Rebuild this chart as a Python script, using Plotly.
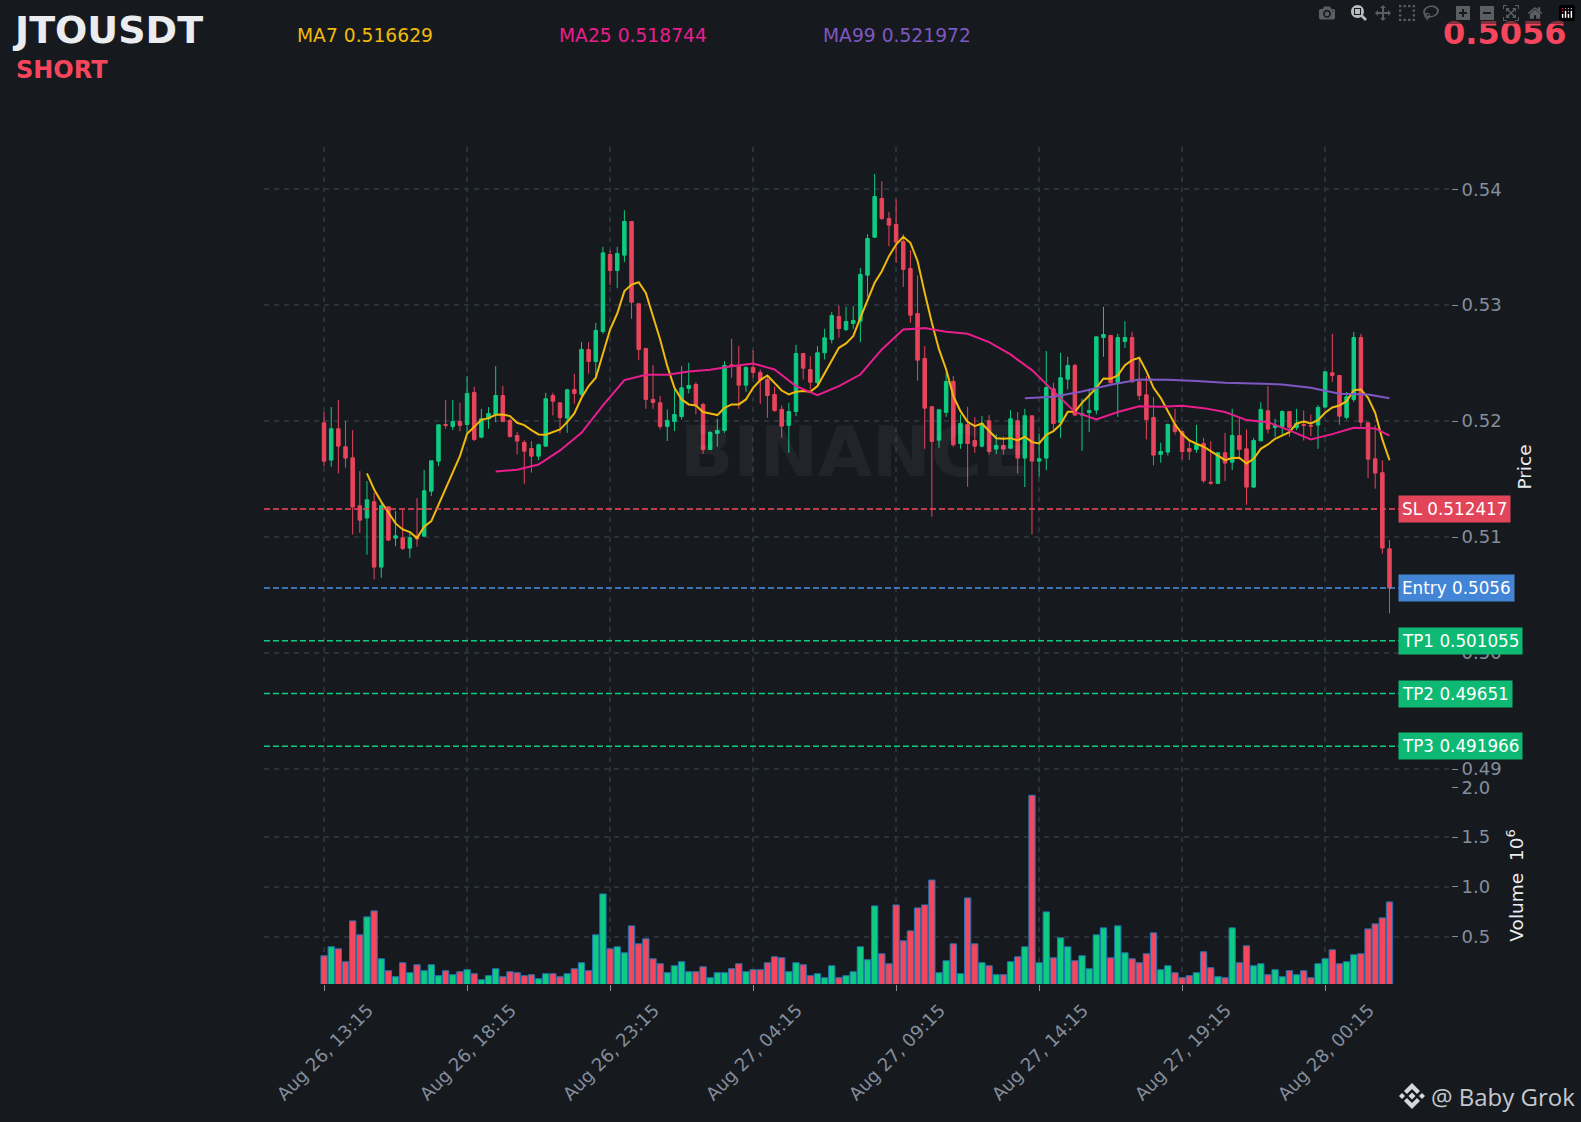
import pandas as pd
import plotly.graph_objs as go
from plotly.subplots import make_subplots

SYMBOL = 'JTOUSDT'
SIDE = 'SHORT'
LAST_PRICE = '0.5056'

# 15 minute klines
opens = [
    .51986, .51664, .51934, .51779, .51684, .51270, .51164, .51305, .50741, .51261,
    .50991, .50994, .50905, .51008, .51008, .51396, .51655, .51971, .51954, .51997,
    .51971, .52247, .51862, .52020, .52057, .52221, .52006, .51876, .51816, .51764,
    .51698, .51784, .52221, .52158, .52026, .52273, .52230, .52618, .52514, .52773,
    .53437, .53299, .53431, .53722, .53012, .52627, .52187, .52158, .51954, .51997,
    .52040, .52282, .52316, .52144, .51756, .51894, .51920, .52486, .52474, .52310,
    .52463, .52420, .52359, .52230, .52101, .51963, .52083, .52583, .52445, .52331,
    .52589, .52704, .52902, .52790, .52842, .52862, .53259, .53586, .53920, .53747,
    .53696, .53549, .53316, .52928, .52540, .52124, .51836, .52075, .52342, .51807,
    .51971, .51833, .51784, .52003, .51759, .51790, .51767, .52003, .51681, .52046,
    .51655, .51681, .52279, .51986, .52362, .52480, .52052, .52075, .52095, .52721,
    .52739, .52331, .52687, .52721, .52339, .52227, .52032, .51713, .51733, .51968,
    .51911, .51764, .51756, .51807, .51474, .51463, .51727, .51646, .51876, .51761,
    .51431, .51830, .52089, .51945, .51954, .52083, .51943, .51971, .51963, .51966,
    .52121, .52417, .52394, .52032, .52187, .52721, .51986, .51675, .51555, .50899,
]
highs = [
    .52078, .52121, .52181, .52000, .51922, .51569, .51483, .51382, .51296, .51264,
    .51224, .51238, .51052, .51336, .51578, .51658, .51971, .52181, .52181, .52158,
    .52388, .52296, .52106, .52121, .52474, .52302, .52020, .51905, .51836, .51828,
    .51807, .52244, .52244, .52158, .52279, .52408, .52681, .52681, .52848, .53503,
    .53471, .53503, .53819, .53722, .53012, .52627, .52483, .52216, .52101, .52273,
    .52474, .52503, .52336, .52158, .51914, .52020, .52517, .52710, .52647, .52474,
    .52612, .52445, .52388, .52296, .52135, .52158, .52658, .52589, .52560, .52647,
    .52796, .52940, .52997, .52986, .52992, .53322, .53612, .54132, .54069, .53805,
    .53914, .53612, .53474, .53256, .52647, .52124, .52101, .52417, .52388, .52057,
    .52124, .52034, .52043, .52052, .51885, .51871, .52095, .52078, .52106, .52046,
    .51894, .52604, .52331, .52589, .52555, .52494, .52193, .52279, .52733, .52986,
    .52739, .52753, .52862, .52770, .52532, .52388, .52207, .51813, .51980, .52106,
    .51914, .51842, .51968, .51856, .51828, .51727, .51899, .52106, .52029, .51928,
    .51856, .52164, .52302, .52020, .52092, .52083, .52106, .52092, .52057, .52138,
    .52428, .52753, .52394, .52250, .52770, .52753, .51986, .51963, .51661, .50974,
]
lows = [
    .51612, .51606, .51549, .51598, .51023, .51037, .50848, .50635, .50649, .50965,
    .50922, .50888, .50822, .50917, .51003, .51353, .51612, .51934, .51922, .51914,
    .51899, .51828, .51853, .51934, .51991, .51991, .51856, .51713, .51460, .51555,
    .51664, .51784, .52049, .51894, .51899, .52149, .52216, .52411, .52388, .52753,
    .53173, .53147, .53371, .52882, .52526, .52106, .52106, .51928, .51828, .51914,
    .52014, .52239, .52057, .51718, .51756, .51779, .51899, .52374, .52106, .52253,
    .52374, .52149, .52029, .52078, .51856, .51727, .52043, .52359, .52273, .52316,
    .52532, .52670, .52719, .52776, .52796, .52681, .53072, .53581, .53733, .53509,
    .53365, .53158, .52848, .52348, .51761, .51175, .51770, .52037, .51779, .51761,
    .51434, .51727, .51773, .51713, .51715, .51710, .51761, .51549, .51431, .51023,
    .51520, .51578, .51928, .51856, .52273, .52043, .51744, .51905, .52057, .52555,
    .52325, .52037, .52632, .52331, .52181, .51842, .51618, .51641, .51704, .51885,
    .51669, .51664, .51727, .51468, .51451, .51460, .51483, .51578, .51669, .51279,
    .51422, .51828, .51894, .51865, .51885, .51865, .51922, .51833, .51871, .51761,
    .52115, .52339, .51968, .52014, .52164, .51951, .51509, .51417, .50856, .50342,
]
closes = [
    .51655, .51934, .51784, .51681, .51259, .51146, .51322, .50741, .51270, .50974,
    .51011, .50902, .50994, .50985, .51399, .51658, .51968, .51963, .51997, .51963,
    .52239, .51842, .52020, .52066, .52221, .51997, .51868, .51828, .51741, .51698,
    .51796, .52193, .52172, .52032, .52270, .52239, .52618, .52514, .52782, .53451,
    .53299, .53446, .53722, .53026, .52618, .52187, .52161, .51954, .52006, .52057,
    .52287, .52308, .52138, .51756, .51902, .51920, .52480, .52474, .52310, .52463,
    .52420, .52354, .52221, .52092, .51957, .52083, .52583, .52457, .52336, .52589,
    .52719, .52911, .52799, .52859, .52868, .53265, .53575, .53937, .53747, .53690,
    .53543, .53308, .52914, .52526, .52112, .51825, .52098, .52342, .51796, .51980,
    .51807, .51784, .51980, .51738, .51790, .51759, .52020, .51681, .52046, .51655,
    .51675, .52290, .51980, .52374, .52480, .52052, .52063, .52092, .52727, .52747,
    .52331, .52721, .52721, .52339, .52221, .52014, .51707, .51738, .51971, .51911,
    .51738, .51738, .51796, .51486, .51465, .51727, .51638, .51876, .51756, .51431,
    .51833, .52101, .51931, .51963, .52083, .51945, .51980, .51963, .51957, .52118,
    .52425, .52394, .52043, .52210, .52721, .51991, .51672, .51552, .50905, .5056,
]
# volume in millions
volumes = [
    .31, .40, .38, .25, .66, .52, .70, .76, .28, .16,
    .10, .24, .14, .22, .16, .22, .11, .16, .12, .15,
    .17, .13, .07, .11, .18, .10, .15, .14, .11, .12,
    .08, .13, .13, .10, .13, .18, .24, .16, .52, .93,
    .38, .40, .34, .61, .43, .48, .28, .23, .14, .21,
    .25, .15, .15, .20, .09, .14, .14, .18, .23, .15,
    .17, .17, .24, .30, .29, .15, .24, .22, .11, .13,
    .09, .21, .09, .11, .15, .40, .27, .81, .33, .23,
    .82, .46, .56, .79, .82, 1.07, .14, .26, .43, .13,
    .89, .43, .24, .21, .12, .12, .25, .30, .40, 1.92,
    .24, .75, .29, .49, .40, .26, .31, .18, .52, .59,
    .29, .61, .34, .28, .24, .33, .54, .17, .21, .14,
    .09, .11, .14, .35, .19, .10, .09, .59, .24, .41,
    .21, .23, .12, .17, .10, .16, .12, .16, .09, .23,
    .28, .37, .23, .25, .32, .33, .58, .63, .69, .85,
]

# Moving averages as they are drawn, MA7 from candle 6 on
ma7 = [
    .51549, .51411, .51305, .51210, .51118, .51066, .51043, .50991, .51089, .51138,
    .51282, .51411, .51569, .51698, .51891, .51951, .52011, .52026, .52055, .52057,
    .52043, .51986, .51966, .51922, .51885, .51882, .51905, .51928, .51991, .52066,
    .52201, .52302, .52374, .52589, .52790, .52928, .53121, .53178, .53198, .53106,
    .52905, .52704, .52474, .52287, .52187, .52144, .52135, .52078, .52066, .52052,
    .52115, .52144, .52144, .52187, .52287, .52354, .52394, .52331, .52264, .52230,
    .52253, .52259, .52253, .52302, .52411, .52532, .52632, .52670, .52733, .52891,
    .53049, .53193, .53293, .53423, .53523, .53589, .53538, .53380, .53106, .52848,
    .52618, .52445, .52216, .52086, .51994, .51957, .51980, .51914, .51853, .51848,
    .51853, .51833, .51865, .51819, .51807, .51882, .51914, .51971, .52080, .52080,
    .52158, .52221, .52287, .52368, .52365, .52394, .52483, .52526, .52546, .52431,
    .52287, .52201, .52086, .51971, .51891, .51833, .51805, .51779, .51741, .51704,
    .51664, .51681, .51684, .51635, .51675, .51761, .51799, .51848, .51876, .51905,
    .51980, .51997, .51980, .52009, .52072, .52118, .52135, .52172, .52267, .52273,
    .52201, .52072, .51842, .516629,
]
# MA25 read every third candle from candle 24, last value from the header
ma25 = [
    .51566, .51580, .51626, .51747, .51899, .52135, .52354, .52399, .52399, .52428,
    .52443, .52474, .52497, .52445, .52302, .52224, .52302, .52402, .52618, .52790,
    .52802, .52770, .52753, .52681, .52575, .52440, .52259, .52080, .52014, .52078,
    .52129, .52124, .52132, .52112, .52078, .52009, .51991, .51920, .51842, .51888,
    .51943, .51937, .518744,
]
# MA99 read every fourth candle from candle 98, last value from the header
ma99 = [
    .52198, .52210, .52256, .52313, .52359, .52356, .52345, .52331, .52325, .52316,
    .52287, .52236, .52230, .521972,
]

tick_labels = ['Aug 26, 13:15', 'Aug 26, 18:15', 'Aug 26, 23:15', 'Aug 27, 04:15',
               'Aug 27, 09:15', 'Aug 27, 14:15', 'Aug 27, 19:15', 'Aug 28, 00:15']

level_names = ['SL 0.512417', 'Entry 0.5056', 'TP1 0.501055', 'TP2 0.49651', 'TP3 0.491966']
level_values = [0.512417, 0.5056, 0.501055, 0.49651, 0.491966]
level_lines = ['#f6465d', '#4a90e2', '#0ecb81', '#0ecb81', '#0ecb81']
level_boxes = ['#e2445a', '#4285d6', '#0eb974', '#0eb974', '#0eb974']

BG = '#161a1f'
GRID = '#2b3139'
TICK = '#848e9c'
GREEN = '#0ecb81'
RED = '#f6465d'
YELLOW = '#f0b90b'
PINK = '#e91e8c'
PURPLE = '#7e57c2'
FONT = 'DejaVu Sans'

times = pd.date_range('2024-08-26 13:15', periods=len(closes), freq='15min')
tick_times = times[::20]
ma25_idx = list(range(24, 148, 3)) + [149]
ma99_idx = list(range(98, 147, 4)) + [149]

fig = make_subplots(rows=2, cols=1, shared_xaxes=True, vertical_spacing=0,
                    row_heights=[0.7646, 0.2354])

fig.add_trace(go.Candlestick(x=times, open=opens, high=highs, low=lows, close=closes,
                             increasing_line_color=GREEN, increasing_fillcolor=GREEN,
                             decreasing_line_color='#e8455c', decreasing_fillcolor='#e8455c',
                             line_width=1, showlegend=False), row=1, col=1)
fig.add_trace(go.Scatter(x=times[6:], y=ma7, mode='lines', line=dict(color=YELLOW, width=2),
                         showlegend=False), row=1, col=1)
fig.add_trace(go.Scatter(x=times[ma25_idx], y=ma25, mode='lines', line=dict(color=PINK, width=2),
                         showlegend=False), row=1, col=1)
fig.add_trace(go.Scatter(x=times[ma99_idx], y=ma99, mode='lines', line=dict(color=PURPLE, width=2),
                         showlegend=False), row=1, col=1)

bar_colors = [GREEN if c >= o else RED for o, c in zip(opens, closes)]
fig.add_trace(go.Bar(x=times, y=volumes, marker=dict(color=bar_colors, line=dict(color='#1f77b4', width=1)),
                     showlegend=False), row=2, col=1)

# SL / entry / TP levels
for value, color in zip(level_values, level_lines):
    fig.add_shape(type='line', xref='x domain', yref='y', x0=0, x1=0.957, y0=value, y1=value,
                  line=dict(color=color, width=1.5, dash='6px,3px'))


def px(x):
    return (x - 264) / 1187


def py(y):
    return (984 - y) / 837


def label(text, x, y, size, color, bold=False, anchor='left', family=FONT):
    fig.add_annotation(text='<b>%s</b>' % text if bold else text, xref='paper', yref='paper',
                       x=px(x), y=py(y), xanchor=anchor, yanchor='middle', showarrow=False,
                       font=dict(family=family, size=size, color=color))


label('BINANCE', 855, 452, 70, 'rgba(255,255,255,0.05)', bold=True, anchor='center')
label(SYMBOL, 10, 30, 38, '#eaecef', bold=True)
label(SIDE, 14, 70, 24, RED, bold=True)
label('MA7 %.6f' % ma7[-1], 294.5, 36, 18.7, YELLOW)
label('MA25 %.6f' % ma25[-1], 557, 36, 18.7, PINK)
label('MA99 %.6f' % ma99[-1], 821, 36, 18.7, PURPLE)
label(LAST_PRICE, 1568, 33, 32, RED, bold=True, anchor='right')
label('@ Baby Grok', 1429, 1096, 24, '#c4c8ce', family='Open Sans')


# little Binance mark next to the credit
def mark(points):
    path = 'M' + ' L'.join('%f,%f' % (px(1412 + a), py(1096 + b)) for a, b in points) + ' Z'
    fig.add_shape(type='path', xref='paper', yref='paper', path=path,
                  fillcolor='#d5d8dc', line_width=0)


mark([(0, -13), (8, -5), (5, -2), (0, -7), (-5, -2), (-8, -5)])
mark([(0, 13), (8, 5), (5, 2), (0, 7), (-5, 2), (-8, 5)])
mark([(0, -3.5), (3.5, 0), (0, 3.5), (-3.5, 0)])
mark([(-10, -3), (-7, 0), (-10, 3), (-13, 0)])
mark([(10, -3), (13, 0), (10, 3), (7, 0)])

for name, value, color in zip(level_names, level_values, level_boxes):
    fig.add_annotation(text=name, xref='paper', yref='y', x=px(1398), y=value, xanchor='left',
                       yanchor='middle', showarrow=False, bgcolor=color, borderpad=3,
                       font=dict(family=FONT, size=16.8, color='#ffffff'))

# date labels are centred under their ticks
for tick, text in zip(tick_times, tick_labels):
    fig.add_annotation(text=text, xref='x2', yref='paper', x=tick, y=py(1052), textangle=-45,
                       xanchor='center', yanchor='middle', showarrow=False,
                       font=dict(family=FONT, size=18, color=TICK))

fig.update_layout(width=1581, height=1122, paper_bgcolor=BG, plot_bgcolor=BG,
                  margin=dict(l=264, r=130, t=147, b=138), bargap=0.12,
                  font=dict(family=FONT, color=TICK), showlegend=False)
fig.update_xaxes(range=['2024-08-26 11:09', '2024-08-28 04:39'], rangeslider_visible=False,
                 tickvals=tick_times, showgrid=True, gridcolor=GRID, gridwidth=1.5, griddash='5px,5px',
                 zeroline=False, showline=False, showticklabels=False)
fig.update_xaxes(ticks='outside', ticklen=6, tickcolor=TICK, row=2, col=1)
fig.update_yaxes(side='right', showgrid=True, gridcolor=GRID, gridwidth=1.5, griddash='5px,5px',
                 zeroline=False, showline=False, ticks='outside', ticklen=6, tickcolor=TICK,
                 tickfont=dict(size=18, color=TICK))
fig.update_yaxes(range=[0.48845, 0.54364], dtick=0.01, tickformat='.2f', row=1, col=1,
                 title=dict(text='Price', standoff=17, font=dict(size=18.5, color='#eaecef')))
fig.update_yaxes(range=[0.027, 2.003], dtick=0.5, tickformat='.1f', row=2, col=1,
                 title=dict(text='Volume  10<sup>6</sup>', standoff=20, font=dict(size=18.5, color='#eaecef')))

fig.write_html("out.html", post_script="document.body.style.margin='0';")
